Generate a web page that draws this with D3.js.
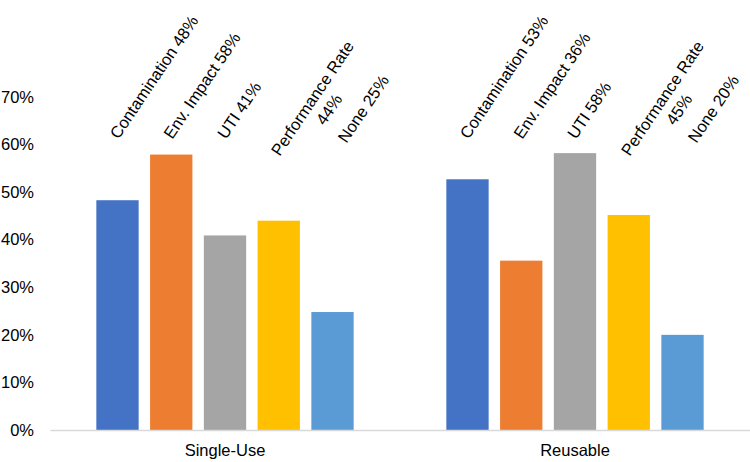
<!DOCTYPE html>
<html>
<head>
<meta charset="utf-8">
<script src="https://cdn.jsdelivr.net/npm/d3@7"></script>
<style>
  html, body { margin: 0; padding: 0; background: #fff; }
  svg { display: block; font-family: "Liberation Sans", Arial, sans-serif; }
</style>
</head>
<body>
<svg id="chart" width="750" height="462"></svg>
<script>
// ---- data ----
const groups = ["Single-Use", "Reusable"];
const series = ["Contamination", "Env. Impact", "UTI", "Performance Rate", "None"];
const singleUseValues = [0.483, 0.579, 0.409, 0.440, 0.248];
const reusableValues = [0.527, 0.356, 0.582, 0.452, 0.200];
const singleUseLabels = ["Contamination 48%", "Env. Impact 58%", "UTI 41%", "Performance Rate\n44%", "None 25%"];
const reusableLabels = ["Contamination 53%", "Env. Impact 36%", "UTI 58%", "Performance Rate\n45%", "None 20%"];
const yTicks = [0, 0.1, 0.2, 0.3, 0.4, 0.5, 0.6, 0.7];
const colors = ["#4472C4", "#ED7D31", "#A5A5A5", "#FFC000", "#5B9BD5"];

const valuesByGroup = [singleUseValues, reusableValues];
const labelsByGroup = [singleUseLabels, reusableLabels];
const rows = [];
groups.forEach((g, gi) => series.forEach((s, si) => rows.push({
  group: g, series: s, value: valuesByGroup[gi][si], label: labelsByGroup[gi][si], color: colors[si],
  prevMulti: si > 0 && labelsByGroup[gi][si - 1].includes("\n")
})));

// ---- layout ----
const svg = d3.select("#chart");
const plotLeft = 50, plotRight = 750, plotTop = 97, plotBottom = 430;
const FONT = "'Liberation Sans', Arial, sans-serif";

const x0 = d3.scaleBand().domain(groups).range([plotLeft, plotRight]).paddingInner(0).paddingOuter(0);
const x1 = d3.scaleBand().domain(series).range([0, x0.bandwidth()]).paddingInner(0.213).paddingOuter(0.862);
const y = d3.scaleLinear().domain([0, 0.7]).range([plotBottom, plotTop]);

// y axis labels
const yAxis = d3.axisLeft(y).tickValues(yTicks).tickFormat(d3.format(".0%")).tickSize(0).tickPadding(0);
const yg = svg.append("g").attr("transform", `translate(34,0)`).call(yAxis);
yg.select(".domain").remove();
yg.selectAll("text").attr("font-size", "16.5px").attr("fill", "#000").attr("font-family", FONT);

// bars
svg.append("g").selectAll("rect").data(rows).join("rect")
  .attr("x", d => x0(d.group) + x1(d.series))
  .attr("width", x1.bandwidth())
  .attr("y", d => y(d.value))
  .attr("height", d => y(0) - y(d.value))
  .attr("fill", d => d.color);

// x axis
const xAxis = d3.axisBottom(x0).tickSize(0).tickPadding(14);
const xg = svg.append("g").attr("transform", `translate(0,${plotBottom})`).call(xAxis);
xg.select(".domain").attr("stroke", "#d9d9d9").attr("stroke-width", 1.5);
xg.selectAll("text").attr("font-size", "16.5px").attr("fill", "#000").attr("font-family", FONT);

// rotated data labels (nudged right when following a two-line label, to avoid overlap)
const labelY = 140, angle = -56, lineH = 17, lineGap = 20, nudgeX = 13, nudgeY = 4;
const lg = svg.append("g").selectAll("g").data(rows).join("g")
  .attr("transform", d => {
    const n = d.label.split("\n").length;
    const cx = x0(d.group) + x1(d.series) + x1.bandwidth() / 2 + 1 + (d.prevMulti ? nudgeX : 0);
    const cy = labelY + (n - 1) * lineH + (d.prevMulti ? nudgeY : 0);
    return `translate(${cx},${cy}) rotate(${angle})`;
  });
lg.each(function(d) {
  const lines = d.label.split("\n");
  const g = d3.select(this);
  const t1 = g.append("text").attr("font-size", "16.5px").attr("fill", "#000")
    .attr("font-family", FONT).attr("text-anchor", "start").text(lines[0]);
  if (lines.length > 1) {
    const w1 = t1.node().getComputedTextLength();
    lines.slice(1).forEach((ln, i) => {
      g.append("text").attr("font-size", "16.5px").attr("fill", "#000").attr("font-family", FONT)
        .attr("text-anchor", "middle").attr("x", w1 / 2).attr("y", (i + 1) * lineGap).text(ln);
    });
  }
});
</script>
</body>
</html>
